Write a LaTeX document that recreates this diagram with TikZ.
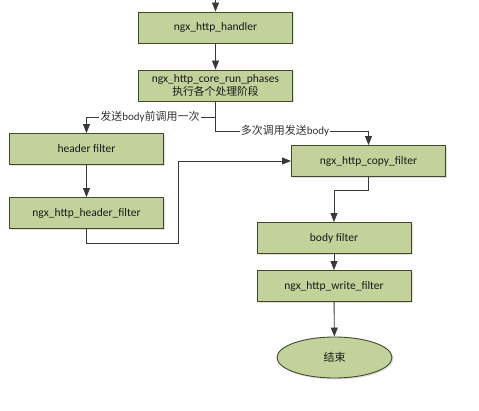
\documentclass[tikz,border=0pt]{standalone}
\usepackage{fontspec}
\setmainfont{Carlito}
\newfontfamily\cjk{Noto Sans CJK SC}
\usetikzlibrary{arrows.meta,shapes.geometric,shadows}
\definecolor{boxfill}{HTML}{C3D29A}
\definecolor{boxline}{HTML}{3F4A2C}
\definecolor{lin}{HTML}{383838}
\begin{document}
\begin{tikzpicture}[x=1pt,y=-1pt,
  box/.style={draw=boxline, line width=0.9pt, fill=boxfill, minimum width=154pt, minimum height=31pt, inner sep=1pt,
    font=\fontsize{11.5}{12.5}\selectfont, text=black!90, align=center,
    drop shadow={shadow xshift=1.5pt,shadow yshift=-1.5pt,opacity=0.25}},
  conn/.style={draw=lin, line width=0.9pt, -{Triangle[width=7pt,length=9pt]}},
  lbl/.style={fill=white, inner sep=1pt, text=black!80, font=\fontsize{11}{12}\selectfont}
]
\useasboundingbox (0,0) rectangle (479,411);
\node[box] (handler) at (215.5,27.5) {ngx\_http\_handler};
\node[box] (phases) at (215.5,85.5) {ngx\_http\_core\_run\_phases\\{\cjk\fontsize{10.8}{12.5}\selectfont 执行各个处理阶段}};
\node[box] (hfilter) at (86.5,149) {header filter};
\node[box] (hhfilter) at (86.5,213) {ngx\_http\_header\_filter};
\node[box] (copy) at (368.5,161) {ngx\_http\_copy\_filter};
\node[box] (body) at (334,238) {body filter};
\node[box] (write) at (334,286) {ngx\_http\_write\_filter};
\node[box, ellipse, minimum width=115pt, minimum height=41pt] (end) at (334.5,357.5) {\cjk\fontsize{11}{12}\selectfont 结束};

\coordinate (top) at (215.5,0);
\coordinate (br) at (215.5,117);
\coordinate (br2) at (215.5,131);
\coordinate (c2) at (178,243);
\coordinate (c3) at (334,190);

\draw[conn] (top) -- (handler);
\draw[conn] (handler) -- (phases);
\draw[conn] (phases.south) -- (br) -| (hfilter.north);
\draw[conn] (br) -- (br2) -| (copy.north);
\draw[conn] (hfilter) -- (hhfilter);
\draw[conn] (hhfilter.south) |- (c2) |- (copy.west);
\draw[conn] (copy.south) |- (c3) -- (body.north);
\draw[conn] (body) -- (write);
\draw[conn] (write) -- (end);

\node[lbl] (l1) at (150,117) {{\cjk 发送}body{\cjk 前调用一次}};
\node[lbl] (l2) at (285,131) {{\cjk 多次调用发送}body};
\end{tikzpicture}
\end{document}
